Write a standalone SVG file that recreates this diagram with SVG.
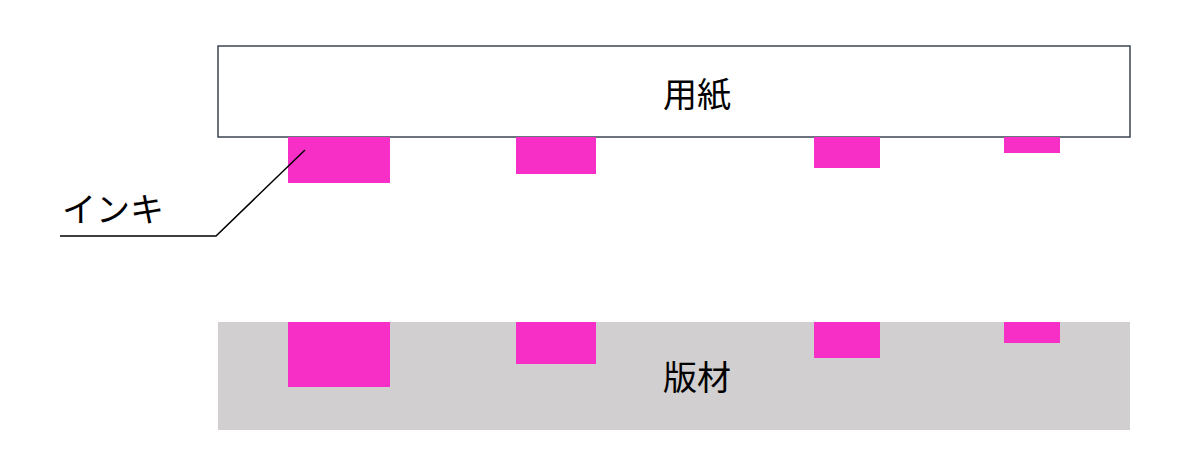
<svg xmlns="http://www.w3.org/2000/svg" width="1200" height="460" viewBox="0 0 1200 460">
<style>
.ink{fill:#f72fc6}
.t{font-family:"Liberation Sans","Noto Sans CJK JP",sans-serif;font-size:34px;fill:#000}
</style>
<rect width="1200" height="460" fill="#fff"/>
<g id="paper">
<rect x="218" y="46" width="912" height="91" fill="#fff" stroke="#3b4552" stroke-width="1.5"/>
<text class="t" x="697" y="107" text-anchor="middle">用紙</text>
</g>
<g id="paper-ink">
<rect class="ink" x="288" y="137" width="102" height="46"/>
<rect class="ink" x="516" y="137" width="80" height="37"/>
<rect class="ink" x="814" y="137" width="66" height="31"/>
<rect class="ink" x="1004" y="137" width="56" height="16"/>
</g>
<g id="plate">
<rect x="218" y="322" width="912" height="108" fill="#d2cfd0"/>
<rect class="ink" x="288" y="322" width="102" height="65"/>
<rect class="ink" x="516" y="322" width="80" height="42"/>
<rect class="ink" x="814" y="322" width="66" height="36"/>
<rect class="ink" x="1004" y="322" width="56" height="21"/>
<text class="t" x="697" y="390" text-anchor="middle">版材</text>
</g>
<g id="label">
<text class="t" x="62" y="222">インキ</text>
</g>
<g id="connectors">
<polyline points="60,236 216,236 305,150" fill="none" stroke="#000" stroke-width="1.5"/>
</g>
</svg>
